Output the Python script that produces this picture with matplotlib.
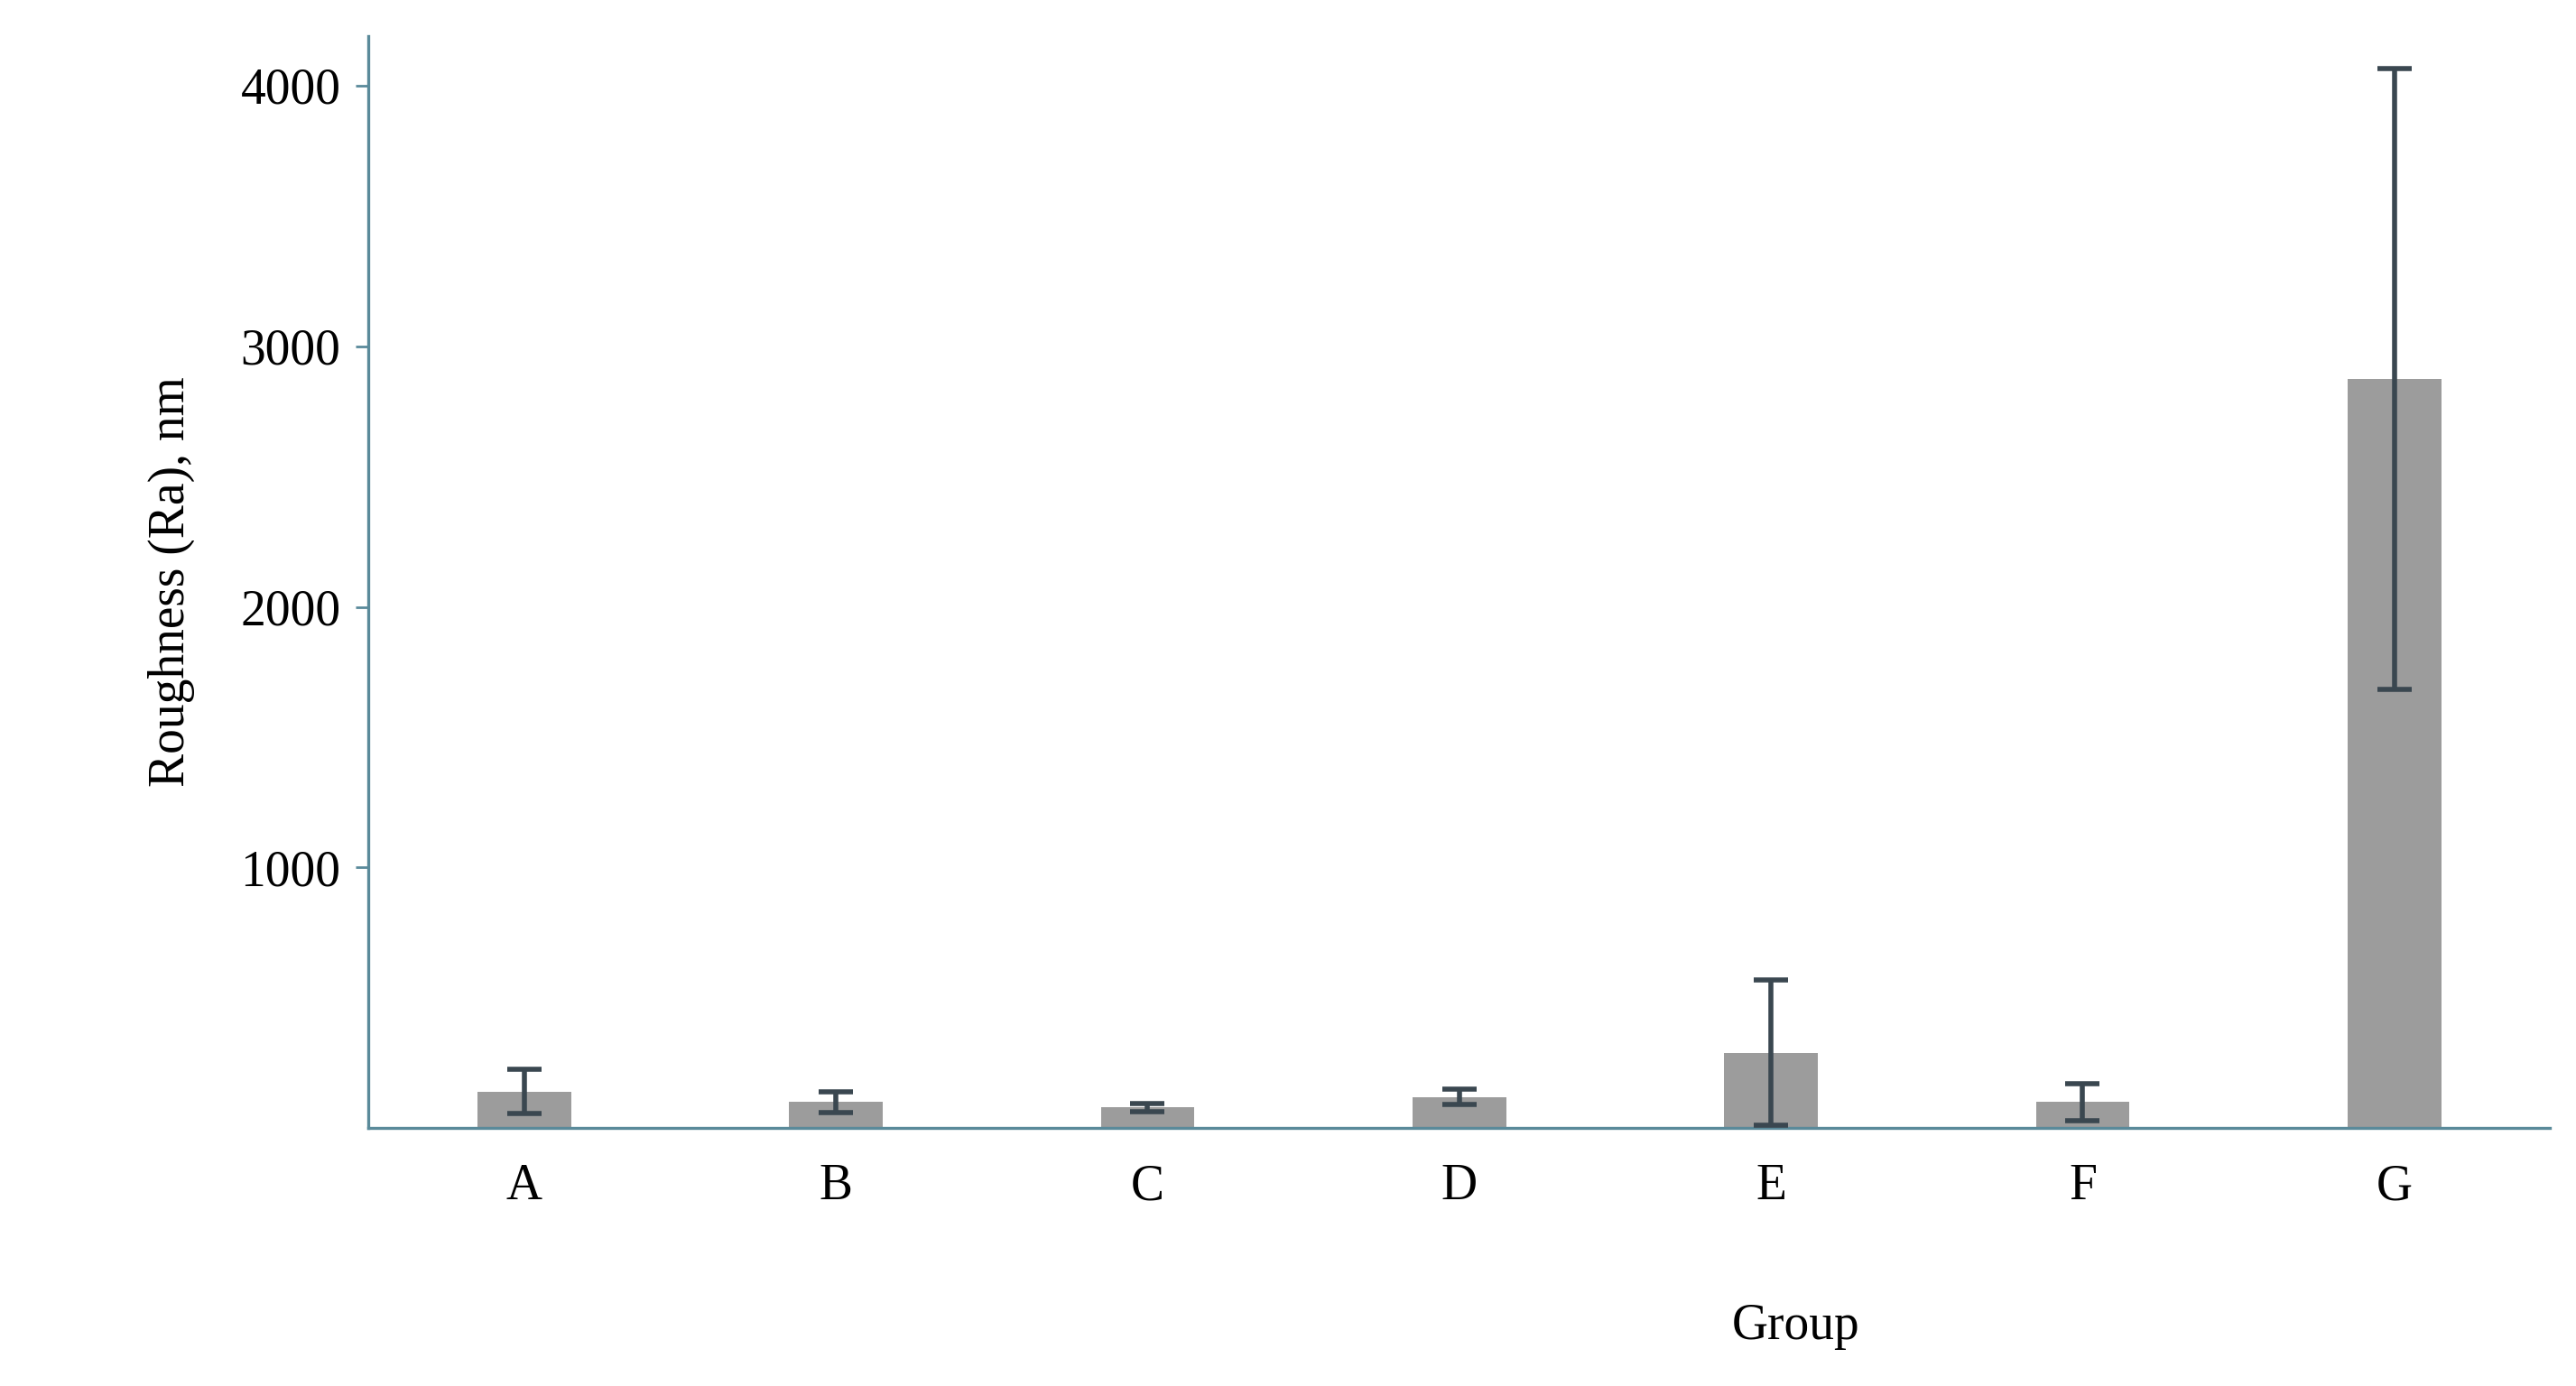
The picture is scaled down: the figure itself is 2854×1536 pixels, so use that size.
import matplotlib
matplotlib.use("Agg")
import matplotlib.pyplot as plt

groups = ["A", "B", "C", "D", "E", "F", "G"]
means = [140, 100, 80, 120, 290, 100, 2875]
errs = [85, 40, 15, 30, 280, 70, 1190]

plt.rcParams['font.family'] = ['Liberation Serif', 'DejaVu Serif']
fig = plt.figure(figsize=(14.27, 7.68), dpi=200)
ax = fig.add_axes([0.143, 0.186, 0.847, 0.788])
x = list(range(len(groups)))
ax.bar(x, means, width=0.3, color="#9c9c9c", zorder=2)
ax.errorbar(x, means, yerr=errs, fmt="none", ecolor="#3a4750", elinewidth=2, capsize=7, capthick=2, zorder=3)
ax.set_xlim(-0.5, 6.5)
ax.set_ylim(0, 4190)
ax.set_xticks(x)
ax.set_xticklabels(groups)
ax.set_yticks([1000, 2000, 3000, 4000])
ax.tick_params(axis='x', length=0, labelsize=20, pad=14)
ax.tick_params(axis='y', length=5, width=1, color="#5a8a9a", labelsize=20, pad=6)
for s in ['top', 'right']:
    ax.spines[s].set_visible(False)
for s in ['left', 'bottom']:
    ax.spines[s].set_color("#5a8a9a")
    ax.spines[s].set_linewidth(1.2)
ax.set_ylabel("Roughness (Ra), nm", fontsize=20, labelpad=18)
fig.text(0.697, 0.043, "Group", fontsize=20, ha="center", va="center")
fig.savefig("out.png", dpi=200)
